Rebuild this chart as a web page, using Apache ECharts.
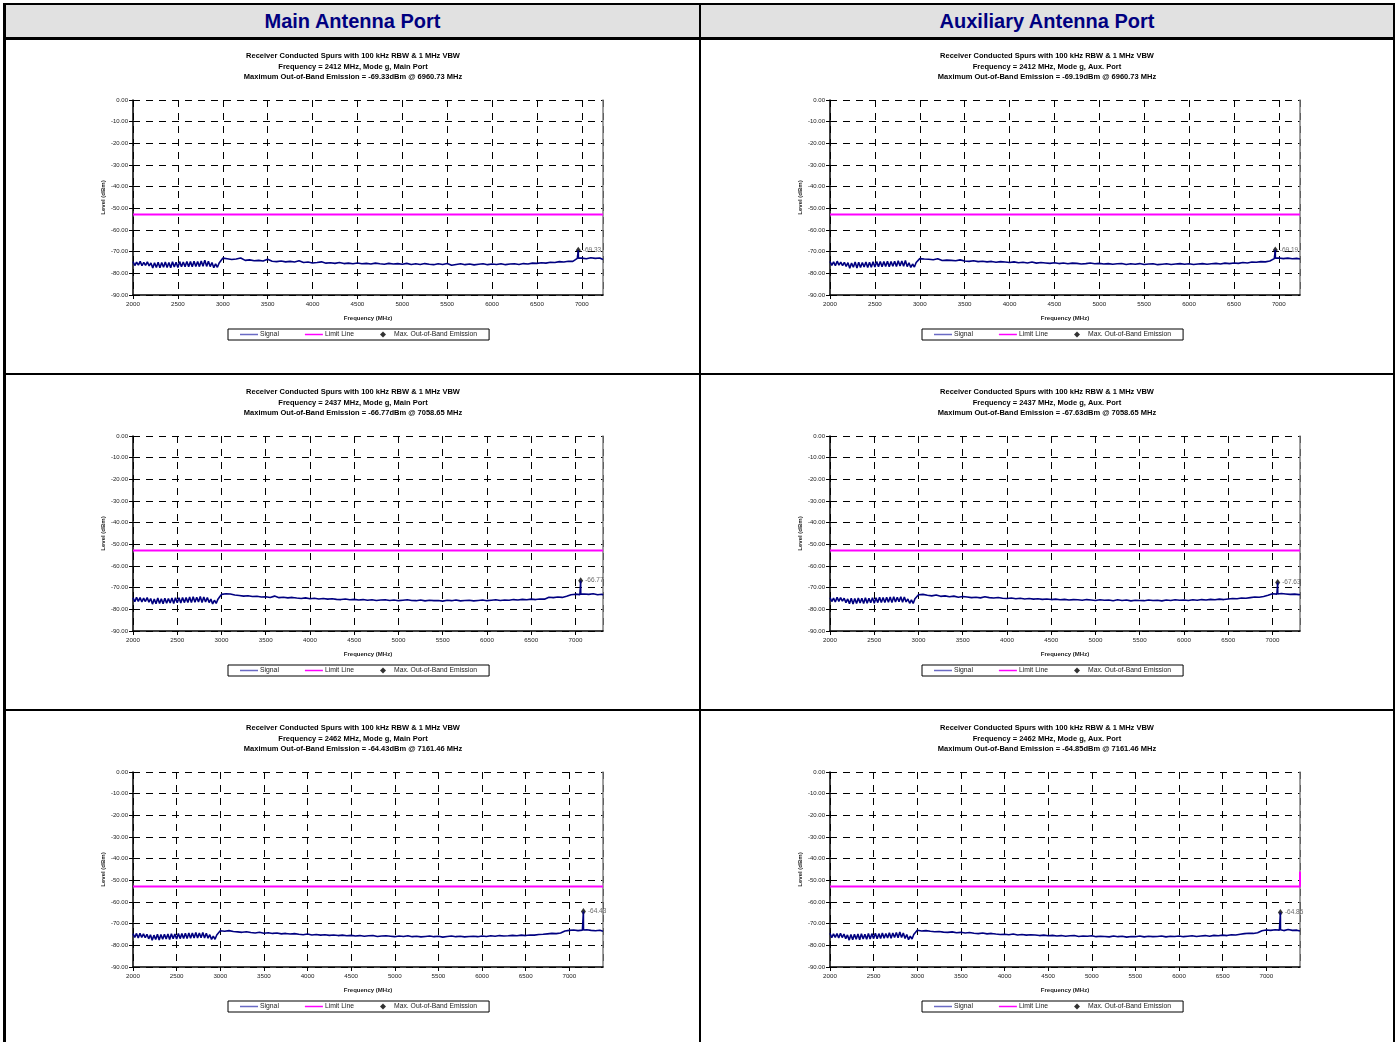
<!DOCTYPE html>
<html>
<head>
<meta charset="utf-8">
<title>Receiver Conducted Spurs</title>
<script src="https://cdn.jsdelivr.net/npm/echarts@6/dist/echarts.min.js"></script>
<style>
  html, body { margin: 0; padding: 0; background: #fff; }
  body { width: 1397px; height: 1042px; position: relative; overflow: hidden;
         font-family: "Liberation Sans", Arial, sans-serif; }
  .bar { position: absolute; background: #000; }
  .head { position: absolute; top: 5px; height: 32px; line-height: 33px; background: #e1e1e1;
          text-align: center; font-weight: bold; font-size: 20px; color: #000080; }
  .chart { position: absolute; }
</style>
</head>
<body>
<div class="head" style="left:6px;width:693px;">Main Antenna Port</div>
<div class="head" style="left:701px;width:692px;">Auxiliary Antenna Port</div>
<div class="bar" style="left:3px;top:3px;width:1392px;height:2px;"></div>
<div class="bar" style="left:3px;top:37px;width:1392px;height:3px;"></div>
<div class="bar" style="left:3px;top:3px;width:3px;height:1039px;"></div>
<div class="bar" style="left:699px;top:3px;width:2px;height:1039px;"></div>
<div class="bar" style="left:1393px;top:3px;width:2px;height:1039px;"></div>
<div class="bar" style="left:3px;top:373px;width:1392px;height:2px;"></div>
<div class="bar" style="left:3px;top:709px;width:1392px;height:2px;"></div>

<div id="c0" class="chart" style="left:7px;top:40px;width:692px;height:332px;"></div>
<div id="c1" class="chart" style="left:702px;top:40px;width:690px;height:332px;"></div>
<div id="c2" class="chart" style="left:7px;top:376px;width:692px;height:332px;"></div>
<div id="c3" class="chart" style="left:702px;top:376px;width:690px;height:332px;"></div>
<div id="c4" class="chart" style="left:7px;top:712px;width:692px;height:330px;"></div>
<div id="c5" class="chart" style="left:702px;top:712px;width:690px;height:330px;"></div>

<script>
// sweep: 2000-2980 MHz read every 20 MHz, then every 50 MHz from 3000 up to the stop frequency
const lowStart = 2000, lowStep = 20;
const highStart = 3000, highStep = 50;

const channels = [2412, 2412, 2437, 2437, 2462, 2462];
const ports = ["Main Port", "Aux. Port", "Main Port", "Aux. Port", "Main Port", "Aux. Port"];
const stopFreqs = [7236, 7236, 7311, 7311, 7386, 7386];
const peakFreqs = [6960.73, 6960.73, 7058.65, 7058.65, 7161.46, 7161.46];
const peakLevels = [-69.33, -69.19, -66.77, -67.63, -64.43, -64.85];
const peakBase = [-73.0, -73.0, -73.0, -72.9, -72.9, -72.8];
const limitLevel = -52.8;
const limitTail = [null, null, null, null, null, -46.0];

const lowMain2412 = [
  -74.6,-76.4,-74.8,-76.2,-74.5,-76.5,-74.9,-76.3,-74.7,-76.6,
  -75.2,-77.5,-75.1,-77.3,-74.9,-77.4,-75.0,-77.2,-74.8,-77.3,
  -75.0,-77.4,-74.7,-77.1,-74.9,-77.3,-74.6,-77.0,-74.8,-76.9,
  -74.5,-76.9,-74.6,-77.0,-74.4,-76.8,-74.5,-76.9,-74.3,-76.7,
  -73.9,-76.8,-74.4,-76.9,-75.0,-77.4,-75.6,-77.2,-75.2,-74.4];
const highMain2412 = [
  -73.0,-73.3,-73.6,-73.4,-72.9,-74.0,-73.8,-74.2,-74.0,-74.3,
  -73.5,-74.4,-74.6,-74.3,-74.7,-74.5,-74.8,-74.2,-75.0,-74.8,
  -75.2,-75.0,-74.7,-75.3,-75.1,-75.4,-75.0,-75.5,-75.3,-75.6,
  -75.2,-75.6,-75.4,-75.7,-75.3,-75.6,-75.8,-75.4,-75.7,-75.5,
  -75.8,-75.4,-75.9,-75.6,-75.9,-75.5,-75.8,-76.0,-75.6,-75.9,
  -75.5,-76.3,-75.9,-75.6,-76.0,-75.7,-76.1,-75.8,-75.6,-76.0,
  -75.7,-75.9,-75.6,-76.0,-75.7,-75.6,-75.9,-75.5,-75.7,-75.3,
  -75.4,-75.1,-75.3,-74.9,-75.0,-74.6,-74.8,-74.4,-74.5,-73.1,
  -73.0,-73.3,-72.8,-73.1,-72.9,-73.6];

const lowAux2412 = [
  -74.5,-76.3,-74.7,-76.5,-74.4,-76.2,-74.8,-76.4,-74.9,-76.8,
  -75.1,-77.6,-75.2,-77.2,-74.8,-77.5,-74.9,-77.3,-75.0,-77.1,
  -74.8,-77.3,-74.9,-77.2,-74.7,-77.1,-74.6,-77.0,-74.5,-77.0,
  -74.6,-76.8,-74.4,-77.0,-74.5,-76.7,-74.4,-76.8,-74.2,-76.6,
  -74.3,-76.7,-74.1,-76.9,-75.1,-77.3,-75.7,-77.1,-75.0,-74.3];
const highAux2412 = [
  -73.2,-73.4,-73.5,-73.7,-73.3,-74.1,-73.9,-74.0,-74.2,-73.8,
  -74.3,-74.5,-74.2,-74.6,-74.4,-74.7,-74.5,-74.9,-74.6,-74.8,
  -75.0,-74.7,-75.1,-74.9,-75.2,-74.8,-75.3,-75.0,-75.2,-75.4,
  -75.1,-75.5,-75.2,-75.6,-75.3,-75.4,-75.7,-75.5,-75.2,-75.6,
  -75.4,-75.7,-75.5,-75.8,-75.6,-75.5,-75.9,-75.6,-75.8,-75.5,
  -75.9,-75.7,-75.6,-76.0,-75.8,-75.6,-75.9,-75.7,-75.5,-75.8,
  -75.6,-75.9,-75.7,-75.5,-75.8,-75.6,-75.4,-75.7,-75.3,-75.5,
  -75.2,-75.4,-75.0,-75.2,-74.8,-74.9,-74.6,-74.7,-74.3,-73.2,
  -72.9,-73.2,-73.0,-73.3,-73.1,-73.4];

const lowMain2437 = [
  -74.7,-76.5,-74.5,-76.3,-74.6,-76.6,-74.8,-76.4,-74.6,-76.7,
  -75.0,-77.6,-75.2,-77.4,-74.8,-77.3,-75.1,-77.4,-74.9,-77.2,
  -75.0,-77.1,-74.8,-77.3,-74.7,-77.0,-74.6,-77.1,-74.5,-76.9,
  -74.6,-76.8,-74.3,-76.9,-74.2,-76.7,-74.4,-76.6,-74.1,-76.8,
  -74.3,-76.6,-74.5,-76.9,-75.3,-77.5,-75.8,-77.3,-75.3,-74.2];
const highMain2437 = [
  -73.1,-72.8,-72.9,-73.4,-73.6,-73.9,-73.7,-74.1,-74.0,-74.3,
  -74.2,-74.5,-73.9,-74.6,-74.4,-74.7,-74.5,-74.8,-75.0,-74.7,
  -75.1,-74.9,-75.2,-75.0,-75.3,-75.1,-75.4,-75.5,-75.2,-75.6,
  -75.4,-75.7,-75.5,-75.8,-75.6,-75.9,-75.7,-75.6,-75.9,-75.7,
  -76.0,-75.8,-75.6,-75.9,-76.0,-75.7,-76.1,-75.8,-76.0,-75.9,
  -76.2,-75.8,-76.0,-75.7,-76.1,-75.9,-75.8,-76.1,-75.9,-75.7,
  -76.0,-75.8,-75.6,-75.9,-75.7,-75.8,-75.5,-75.7,-75.4,-75.6,
  -75.3,-75.5,-75.2,-75.3,-74.4,-74.6,-74.3,-74.5,-74.0,-73.3,
  -73.0,-73.2,-72.9,-73.1,-72.8,-73.3,-73.0,-73.4];

const lowAux2437 = [
  -74.6,-76.4,-74.8,-76.6,-74.4,-76.3,-74.6,-76.2,-74.9,-76.9,
  -75.2,-77.4,-74.9,-77.5,-75.0,-77.3,-74.8,-77.1,-74.9,-77.3,
  -74.7,-77.2,-74.9,-77.0,-74.6,-77.2,-74.7,-76.9,-74.4,-76.8,
  -74.5,-76.9,-74.4,-76.7,-74.3,-76.9,-74.2,-76.6,-74.4,-76.5,
  -74.2,-76.7,-74.3,-76.6,-75.2,-77.2,-75.6,-77.3,-75.1,-74.4];
const highAux2437 = [
  -73.3,-73.1,-73.5,-73.8,-73.4,-74.0,-73.8,-74.2,-73.9,-74.4,
  -74.1,-74.3,-74.6,-74.4,-74.7,-74.2,-74.6,-74.8,-74.5,-74.9,
  -75.0,-74.8,-75.1,-74.9,-75.2,-75.0,-75.3,-75.1,-75.4,-75.2,
  -75.5,-75.3,-75.6,-75.4,-75.7,-75.5,-75.6,-75.8,-75.5,-75.7,
  -75.9,-75.6,-75.8,-75.7,-76.0,-75.6,-75.9,-75.7,-76.1,-75.8,
  -75.9,-76.0,-75.7,-75.9,-75.8,-76.1,-75.7,-75.9,-75.6,-75.8,
  -75.7,-75.9,-75.6,-75.8,-75.5,-75.7,-75.4,-75.6,-75.3,-75.5,
  -75.2,-75.0,-75.1,-74.8,-74.9,-74.6,-74.3,-74.4,-74.1,-73.5,
  -72.8,-73.0,-72.7,-72.9,-73.1,-73.0,-73.2,-73.3];

const lowMain2462 = [
  -74.6,-76.4,-74.5,-76.6,-74.4,-76.3,-74.7,-76.5,-74.9,-77.0,
  -75.1,-77.7,-75.3,-77.3,-74.9,-77.5,-75.0,-77.2,-74.9,-77.1,
  -74.8,-77.3,-74.7,-77.0,-74.8,-77.1,-74.5,-76.9,-74.6,-76.8,
  -74.4,-76.9,-74.3,-76.7,-74.3,-76.6,-74.1,-76.6,-74.3,-76.5,
  -74.1,-76.6,-74.4,-76.7,-75.1,-77.3,-75.7,-77.2,-75.2,-74.3];
const highMain2462 = [
  -73.3,-73.5,-73.2,-73.6,-73.8,-74.0,-73.7,-74.1,-74.3,-74.0,
  -74.4,-74.2,-74.5,-74.3,-74.7,-74.5,-74.8,-74.6,-74.9,-75.1,
  -74.8,-75.2,-75.0,-75.3,-75.1,-75.4,-75.2,-75.5,-75.3,-75.6,
  -75.4,-75.7,-75.5,-75.8,-75.6,-75.5,-75.9,-75.7,-75.6,-75.8,
  -76.0,-75.7,-75.9,-75.6,-76.0,-75.8,-76.1,-75.9,-75.7,-76.0,
  -75.8,-76.2,-75.9,-75.7,-76.0,-75.8,-76.1,-75.9,-75.8,-76.0,
  -75.7,-75.9,-75.6,-75.8,-75.5,-75.7,-75.6,-75.4,-75.6,-75.3,
  -75.5,-75.2,-75.3,-75.0,-74.9,-74.7,-74.5,-74.6,-74.3,-73.4,
  -73.1,-72.9,-73.2,-73.0,-72.8,-73.1,-73.3,-73.0,-73.5];

const lowAux2462 = [
  -74.4,-76.5,-74.7,-76.3,-74.6,-76.6,-74.4,-76.4,-74.8,-76.9,
  -75.2,-77.6,-75.0,-77.4,-74.9,-77.2,-74.8,-77.4,-74.7,-77.1,
  -74.9,-77.2,-74.5,-77.1,-74.6,-76.9,-74.4,-77.0,-74.6,-76.8,
  -74.3,-76.7,-74.5,-76.6,-74.2,-76.7,-74.3,-76.4,-74.1,-76.5,
  -73.8,-76.4,-74.3,-76.8,-75.0,-77.4,-75.8,-77.1,-75.0,-74.2];
const highAux2462 = [
  -73.0,-73.4,-73.2,-73.5,-73.7,-73.6,-73.9,-74.0,-73.8,-74.2,
  -74.0,-74.3,-74.1,-74.4,-74.6,-74.3,-74.7,-74.5,-74.8,-75.0,
  -74.9,-75.1,-74.8,-75.2,-75.0,-75.3,-75.1,-75.2,-75.5,-75.3,
  -75.6,-75.4,-75.7,-75.5,-75.8,-75.6,-75.5,-75.9,-75.7,-75.8,
  -75.6,-76.0,-75.8,-75.9,-76.1,-75.7,-76.0,-75.8,-76.2,-75.9,
  -76.0,-75.7,-76.1,-75.8,-76.0,-75.9,-75.7,-76.1,-75.8,-75.9,
  -75.7,-76.0,-75.8,-75.6,-75.9,-75.7,-75.5,-75.8,-75.4,-75.6,
  -75.3,-75.5,-75.1,-75.2,-74.9,-74.6,-74.4,-74.5,-74.2,-73.3,
  -72.9,-73.1,-72.8,-73.0,-73.2,-72.7,-73.1,-73.0,-73.4];

const lowBands = [lowMain2412, lowAux2412, lowMain2437, lowAux2437, lowMain2462, lowAux2462];
const highBands = [highMain2412, highAux2412, highMain2437, highAux2437, highMain2462, highAux2462];

const FONT = '"Liberation Sans", Arial, sans-serif';
const LINE_ICON = "path://M0,0h24v2h-24z";
const DIAMOND_ICON = "path://M4,0L8,4L4,8L0,4Z";

function signalData(k) {
  const pts = [];
  lowBands[k].forEach((v, i) => pts.push([lowStart + i * lowStep, v]));
  const hb = highBands[k];
  hb.forEach((v, i) => {
    // last reading sits at the stop frequency
    const f = i === hb.length - 1 ? stopFreqs[k] : highStart + i * highStep;
    pts.push([f, v]);
  });
  pts.push([peakFreqs[k] - 1, peakBase[k]], [peakFreqs[k], peakLevels[k]], [peakFreqs[k] + 1, peakBase[k]]);
  pts.sort((a, b) => a[0] - b[0]);
  return pts;
}

function drawChart(k) {
  const el = document.getElementById("c" + k);
  const chart = echarts.init(el);
  const isRight = k % 2 === 1;
  const limit = [[2000, limitLevel], [stopFreqs[k], limitLevel]];
  if (limitTail[k] !== null) limit.push([stopFreqs[k], limitTail[k]]);

  chart.setOption({
    animation: false,
    textStyle: { fontFamily: FONT },
    title: {
      text: "Receiver Conducted Spurs with 100 kHz RBW & 1 MHz VBW\n" +
        "Frequency = " + channels[k] + " MHz, Mode g, " + ports[k] + "\n" +
        "Maximum Out-of-Band Emission = " + peakLevels[k].toFixed(2) + "dBm @ " +
        peakFreqs[k].toFixed(2) + " MHz",
      left: "center",
      top: 6,
      textStyle: { fontSize: 7.5, fontWeight: "bold", color: "#000", lineHeight: 10.5, fontFamily: FONT }
    },
    legend: {
      top: 289,
      left: isRight ? 220 : 221,
      orient: "horizontal",
      itemGap: 26,
      itemWidth: 18,
      itemHeight: 6,
      padding: [2, 12],
      borderColor: "#000",
      borderWidth: 1,
      borderRadius: 0,
      backgroundColor: "#fff",
      textStyle: { fontSize: 6.8, color: "#222", fontFamily: FONT, padding: [0, 0, 0, -3] },
      data: [
        { name: "Signal", icon: LINE_ICON, itemStyle: { color: "#6a6ac4" } },
        { name: "Limit Line", icon: LINE_ICON, itemStyle: { color: "#ff00ff" } },
        { name: "Max. Out-of-Band Emission", icon: DIAMOND_ICON, itemStyle: { color: "#000" } }
      ]
    },
    grid: {
      left: isRight ? 128 : 126,
      top: 60,
      width: 470,
      height: 195,
      outerBoundsMode: "none"
    },
    xAxis: {
      type: "value",
      min: 2000,
      max: stopFreqs[k],
      interval: 500,
      name: "Frequency (MHz)",
      nameLocation: "middle",
      nameGap: 20,
      nameTextStyle: { fontSize: 6, fontWeight: "bold", color: "#222", fontFamily: FONT },
      axisLine: { show: true, onZero: false, lineStyle: { color: "#000", width: 1.5 } },
      axisTick: { show: true, inside: false, length: 4, lineStyle: { color: "#000" } },
      axisLabel: { fontSize: 6.2, color: "#222", margin: 6, showMaxLabel: false, fontFamily: FONT,
                   formatter: v => String(v) },
      splitLine: { show: true, lineStyle: { color: "#000", type: [7, 6], width: 1 } }
    },
    yAxis: [{
      type: "value",
      min: -90,
      max: 0,
      interval: 10,
      name: "Level (dBm)",
      nameLocation: "middle",
      nameGap: 27,
      nameMoveOverlap: false,
      nameTextStyle: { fontSize: 6, fontWeight: "bold", color: "#222", fontFamily: FONT },
      axisLine: { show: true, onZero: false, lineStyle: { color: "#000", width: 1.5 } },
      axisTick: { show: true, inside: false, length: 4, lineStyle: { color: "#000" } },
      axisLabel: { fontSize: 6, color: "#222", margin: 5, formatter: v => v.toFixed(2), fontFamily: FONT },
      splitLine: { show: true, lineStyle: { color: "#000", type: [7, 6], width: 1 } }
    }, {
      type: "value",
      position: "right",
      min: -90,
      max: 0,
      axisLine: { show: true, onZero: false, lineStyle: { color: "#7f7f7f", width: 1.5 } },
      axisTick: { show: false },
      axisLabel: { show: false },
      splitLine: { show: false }
    }],
    series: [
      {
        name: "Signal",
        type: "line",
        data: signalData(k),
        symbol: "none",
        lineStyle: { color: "#000080", width: 1.6 },
        itemStyle: { color: "#000080" }
      },
      {
        name: "Limit Line",
        type: "line",
        data: limit,
        symbol: "none",
        lineStyle: { color: "#ff00ff", width: 2 },
        itemStyle: { color: "#ff00ff" }
      },
      {
        name: "Max. Out-of-Band Emission",
        type: "scatter",
        data: [[peakFreqs[k], peakLevels[k]]],
        symbol: "diamond",
        symbolSize: [5, 7],
        itemStyle: { color: "#000" },
        label: {
          show: true,
          position: "right",
          distance: 2,
          fontSize: 6.5,
          color: "#444",
          fontFamily: FONT,
          formatter: p => p.value[1].toFixed(2)
        }
      }
    ]
  });
}

for (let k = 0; k < 6; k++) drawChart(k);
</script>
</body>
</html>
